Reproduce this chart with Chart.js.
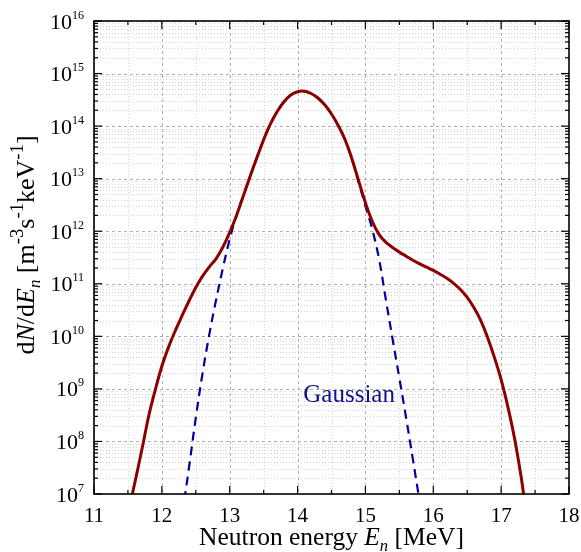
<!DOCTYPE html>
<html><head><meta charset="utf-8">
<script src="https://cdn.jsdelivr.net/npm/chart.js@4.4.1/dist/chart.umd.min.js"></script>
<style>html,body{margin:0;padding:0;background:#fff}#wrap{width:581px;height:552px;position:relative}</style>
</head><body><div id="wrap"><canvas id="c" width="581" height="552"></canvas></div>
<script>
// ---- data ----
const xTickLabels = [11, 12, 13, 14, 15, 16, 17, 18];
const yTickExponents = [7, 8, 9, 10, 11, 12, 13, 14, 15, 16];

const fullEnergy = [11.53, 11.565, 11.65, 11.73, 11.81, 11.90, 12.0, 12.1, 12.2, 12.3, 12.4, 12.5, 12.6, 12.7, 12.8, 12.9,
  13.0, 13.1, 13.2, 13.3, 13.4, 13.5, 13.6, 13.7, 13.8, 13.9, 14.0, 14.1, 14.2, 14.3, 14.4, 14.5, 14.6, 14.7,
  14.8, 14.9, 15.0, 15.1, 15.2, 15.3, 15.4, 15.5, 15.6, 15.7, 15.8, 15.9, 16.0, 16.1, 16.2, 16.3, 16.4, 16.5,
  16.6, 16.7, 16.8, 16.9, 17.0, 17.1, 17.2, 17.3, 17.36];
const fullFlux = [6.3e6, 1.0e7, 3.2e7, 1.0e8, 3.2e8, 9.3e8, 2.7e9, 6.3e9, 1.3e10, 2.5e10, 4.7e10, 8.5e10, 1.4e11, 2.1e11, 3.0e11, 5.0e11,
  9.5e11, 2.0e12, 4.7e12, 1.1e13, 2.5e13, 5.5e13, 1.1e14, 1.9e14, 2.9e14, 3.9e14, 4.5e14, 4.62e14, 4.17e14, 3.43e14, 2.54e14, 1.7e14, 1.02e14, 5.5e13,
  2.4e13, 9.1e12, 3.47e12, 1.55e12, 8.7e11, 6.2e11, 4.9e11, 4.0e11, 3.35e11, 2.8e11, 2.4e11, 2.07e11, 1.8e11, 1.52e11, 1.27e11, 1.02e11, 7.8e10, 5.5e10,
  3.5e10, 2.0e10, 9.5e9, 4.0e9, 1.5e9, 4.5e8, 1.1e8, 1.9e7, 5.0e6];

const gaussEnergy = [12.30, 12.40, 12.50, 12.60, 12.70, 12.80, 12.90, 13.00, 13.10, 13.2, 13.3, 13.4, 13.5, 13.6, 13.7, 13.8, 13.9,
  14.0, 14.1, 14.2, 14.3, 14.4, 14.5, 14.6, 14.7, 14.8, 14.9, 15.0, 15.1, 15.2, 15.3, 15.4, 15.5, 15.6, 15.7, 15.8, 15.85];
const gaussFlux = [4.0e6, 3.2e7, 2.8e8, 2.0e9, 1.1e10, 5.0e10, 2.0e11, 7.1e11, 2.0e12, 4.7e12, 1.1e13, 2.5e13, 5.5e13, 1.1e14, 1.9e14, 2.9e14, 3.9e14,
  4.5e14, 4.62e14, 4.17e14, 3.43e14, 2.54e14, 1.7e14, 1.02e14, 5.5e13, 2.4e13, 8.5e12, 3.0e12, 1.1e12, 3.0e11, 5.1e10, 8.9e9, 1.6e9, 2.8e8, 4.5e7, 7.1e6, 2.8e6];

const gaussLabelText = 'Gaussian';
const gaussLabelAt = { x: 14.76, y: 7.4e8 };

// ---- styling ----
const SERIF = '"Liberation Serif","Times New Roman",serif';
const RED = '#8b0000';
const NAVY = '#0000a0';

function drawRuns(ctx, runs, cx, base, fontSize) {
  let total = 0;
  const fontOf = r => (r.italic ? 'italic ' : '') + (fontSize * (r.scale || 1)).toFixed(1) + 'px ' + SERIF;
  const widths = runs.map(r => {
    ctx.font = fontOf(r);
    const w = ctx.measureText(r.t).width;
    total += w; return w;
  });
  let xx = cx - total / 2;
  ctx.textAlign = 'left'; ctx.textBaseline = 'alphabetic';
  runs.forEach((r, i) => {
    ctx.font = fontOf(r);
    ctx.fillText(r.t, xx, base + (r.dy || 0) * fontSize);
    xx += widths[i];
  });
}

const decor = {
  id: 'decor',
  beforeDatasetsDraw(chart) {
    const { ctx, chartArea: a, scales: { x, y } } = chart;
    ctx.save();
    ctx.beginPath(); ctx.rect(a.left, a.top, a.right - a.left, a.bottom - a.top); ctx.clip();
    ctx.lineWidth = 1;
    const hline = py => { ctx.beginPath(); ctx.moveTo(a.left, py); ctx.lineTo(a.right, py); ctx.stroke(); };
    const vline = px => { ctx.beginPath(); ctx.moveTo(px, a.top); ctx.lineTo(px, a.bottom); ctx.stroke(); };
    // minor grid (dotted)
    ctx.strokeStyle = '#d6d6d6'; ctx.setLineDash([1, 2]);
    for (let i = 0; i < xTickLabels.length - 1; i++) vline(Math.round(x.getPixelForValue(xTickLabels[i] + 0.5)) + 0.5);
    for (let i = 0; i < yTickExponents.length - 1; i++)
      for (let m = 2; m <= 9; m++) hline(Math.round(y.getPixelForValue(m * Math.pow(10, yTickExponents[i]))) + 0.5);
    // major grid (dashed)
    ctx.strokeStyle = '#b0b0b0'; ctx.setLineDash([3, 3]);
    xTickLabels.forEach(v => vline(Math.round(x.getPixelForValue(v)) + 0.5));
    yTickExponents.forEach(e => hline(Math.round(y.getPixelForValue(Math.pow(10, e))) + 0.5));
    ctx.restore();
  },
  afterDatasetsDraw(chart) {
    const { ctx, chartArea: a, scales: { x, y } } = chart;
    ctx.save();
    ctx.setLineDash([]);
    ctx.strokeStyle = '#000'; ctx.lineWidth = 1.2;
    const seg = (x1, y1, x2, y2) => { ctx.beginPath(); ctx.moveTo(x1, y1); ctx.lineTo(x2, y2); ctx.stroke(); };
    // x ticks (inside, top and bottom)
    xTickLabels.forEach((v, i) => {
      const px = x.getPixelForValue(v);
      seg(px, a.bottom, px, a.bottom - 8); seg(px, a.top, px, a.top + 8);
      if (i < xTickLabels.length - 1) {
        const ph = x.getPixelForValue(v + 0.5);
        seg(ph, a.bottom, ph, a.bottom - 4); seg(ph, a.top, ph, a.top + 4);
      }
    });
    // y ticks (inside, left and right)
    yTickExponents.forEach((e, i) => {
      const py = y.getPixelForValue(Math.pow(10, e));
      seg(a.left, py, a.left + 8, py); seg(a.right, py, a.right - 8, py);
      if (i < yTickExponents.length - 1) for (let m = 2; m <= 9; m++) {
        const pm = y.getPixelForValue(m * Math.pow(10, e));
        seg(a.left, pm, a.left + 4, pm); seg(a.right, pm, a.right - 4, pm);
      }
    });
    // frame
    ctx.lineWidth = 1.6;
    ctx.strokeRect(a.left, a.top, a.right - a.left, a.bottom - a.top);

    // y tick labels 10^n
    ctx.fillStyle = '#000';
    ctx.textAlign = 'left'; ctx.textBaseline = 'alphabetic';
    yTickExponents.forEach(e => {
      const py = y.getPixelForValue(Math.pow(10, e));
      ctx.font = '12px ' + SERIF; const ew = ctx.measureText(String(e)).width;
      ctx.font = '22px ' + SERIF; const bw = ctx.measureText('10').width;
      const right = a.left - 10;
      ctx.fillText('10', right - ew - bw, py + 7.5);
      ctx.font = '12px ' + SERIF;
      ctx.fillText(String(e), right - ew, py - 2.5);
    });

    // Gaussian label
    ctx.fillStyle = '#10108c';
    ctx.font = '25px ' + SERIF; ctx.textAlign = 'center'; ctx.textBaseline = 'middle';
    ctx.fillText(gaussLabelText, x.getPixelForValue(gaussLabelAt.x), y.getPixelForValue(gaussLabelAt.y));

    // x title
    ctx.fillStyle = '#000';
    drawRuns(ctx, [
      { t: 'Neutron energy ' }, { t: 'E', italic: true }, { t: 'n', italic: true, scale: 0.65, dy: 0.22 }, { t: ' [MeV]' }
    ], (a.left + a.right) / 2, 545, 25.5);

    // y title (rotated)
    ctx.save();
    ctx.translate(34, 245);
    ctx.rotate(-Math.PI / 2);
    drawRuns(ctx, [
      { t: 'd' }, { t: 'N', italic: true }, { t: '/d' }, { t: 'E', italic: true },
      { t: 'n', italic: true, scale: 0.65, dy: 0.22 }, { t: ' [m' }, { t: '-3', scale: 0.72, dy: -0.42 },
      { t: 's' }, { t: '-1', scale: 0.72, dy: -0.42 }, { t: 'keV' }, { t: '-1', scale: 0.72, dy: -0.42 }, { t: ']' }
    ], 0, 0, 26);
    ctx.restore();
    ctx.restore();
  }
};

new Chart(document.getElementById('c'), {
  type: 'line',
  data: {
    datasets: [
      {
        label: 'Spectrum',
        data: fullEnergy.map((e, i) => ({ x: e, y: fullFlux[i] })),
        borderColor: RED, borderWidth: 3, pointRadius: 0, fill: false,
        tension: 0.4, clip: 0, order: 0
      },
      {
        label: gaussLabelText,
        data: gaussEnergy.map((e, i) => ({ x: e, y: gaussFlux[i] })),
        borderColor: NAVY, borderWidth: 2.2, borderDash: [9, 6], pointRadius: 0, fill: false,
        tension: 0.4, clip: 0, order: 1
      }
    ]
  },
  options: {
    responsive: false, animation: false, devicePixelRatio: 1,
    layout: { padding: { top: 21, right: 12, left: 0, bottom: 0 } },
    plugins: { legend: { display: false }, tooltip: { enabled: false } },
    scales: {
      x: {
        type: 'linear', min: 11, max: 18,
        grid: { display: false, drawTicks: false },
        border: { display: false },
        ticks: { stepSize: 1, color: '#000', font: { family: SERIF, size: 21 }, padding: 10, maxRotation: 0,
          callback: v => (xTickLabels.includes(v) ? String(v) : '') },
        afterFit: s => { s.height = 58; s.paddingLeft = 0; s.paddingRight = 0; }
      },
      y: {
        type: 'logarithmic', min: 1e7, max: 1e16,
        grid: { display: false, drawTicks: false },
        border: { display: false },
        ticks: { display: false },
        afterFit: s => { s.width = 94; s.paddingTop = 0; s.paddingBottom = 0; }
      }
    }
  },
  plugins: [decor]
});
</script>
</body></html>
